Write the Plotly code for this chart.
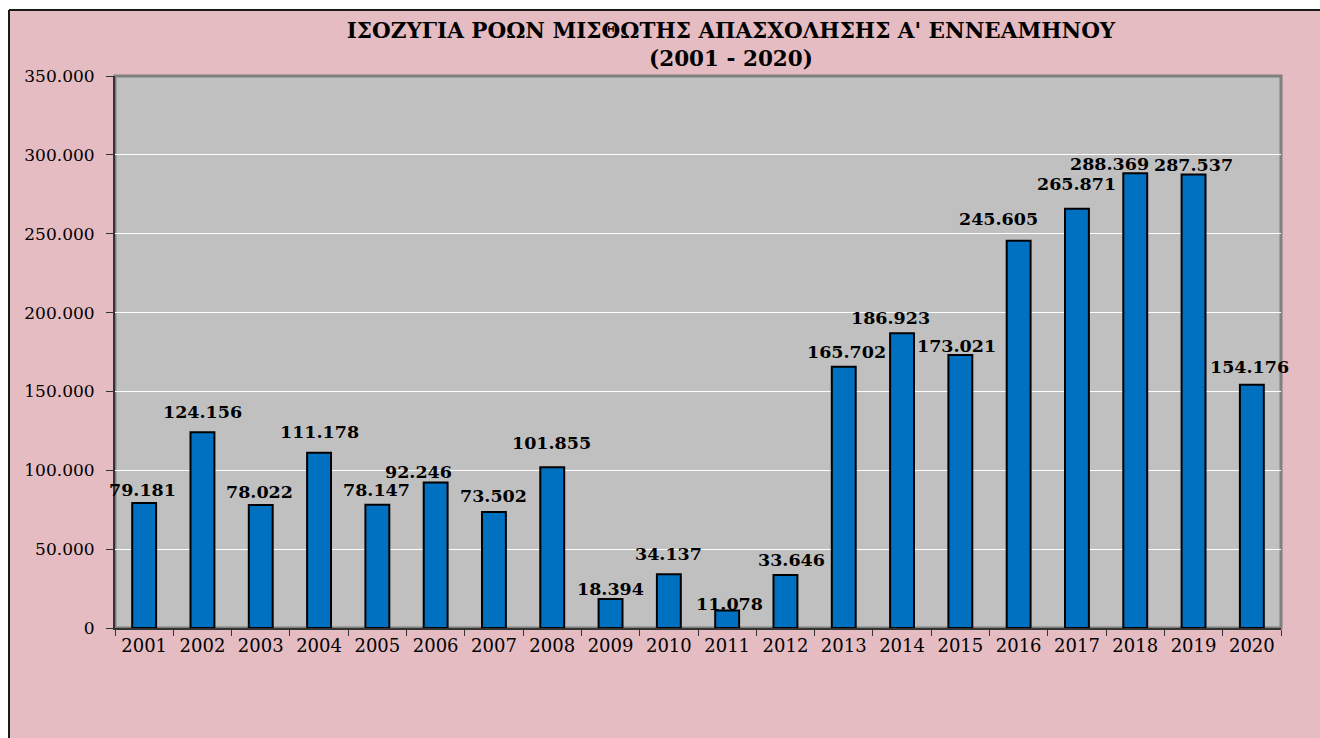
import plotly.graph_objects as go

years = [str(y) for y in range(2001, 2021)]
values = [79181, 124156, 78022, 111178, 78147, 92246, 73502, 101855, 18394, 34137,
          11078, 33646, 165702, 186923, 173021, 245605, 265871, 288369, 287537, 154176]
title_main = "ΙΣΟΖΥΓΙΑ ΡΟΩΝ ΜΙΣΘΩΤΗΣ ΑΠΑΣΧΟΛΗΣΗΣ Α' ΕΝΝΕΑΜΗΝΟΥ"
title_sub = "(2001 - 2020)"
y_ticks = [0, 50000, 100000, 150000, 200000, 250000, 300000, 350000]

# label offsets (pixels) relative to the top-center of each bar
label_dx = [-2, 0, -1, 0, -1, -17, 0, -1, 0, 0, 2, 6, 3, -12, -4, -20, 0, -26, 0, -2]
label_dy = [13, 20, 13, 21, 15, 11, 16, 24, 10, 20, 7, 15, 15, 15, 9, 22, 25, 9, 10, 18]

def fmt(v):
    return f"{v:,}".replace(",", ".")

W, H = 1320, 738
L, R, T, B = 115, 39, 76, 110
pw, ph = W - L - R, H - T - B

def px_x(x):
    return (x - L) / pw

def px_y(y):
    return (H - B - y) / ph

fig = go.Figure()
fig.add_trace(go.Bar(
    x=years, y=values,
    marker=dict(color="#0070c0", line=dict(color="#000000", width=2)),
    hoverinfo="x+y",
))

for i, (v, dx, dy) in enumerate(zip(values, label_dx, label_dy)):
    fig.add_annotation(
        x=i, y=v, text=f"<b>{fmt(v)}</b>", showarrow=False,
        xanchor="center", yanchor="middle", xshift=dx, yshift=dy,
        font=dict(family="DejaVu Serif", size=17.5, color="#000000"),
    )

shapes = [
    # pink chart area
    dict(type="rect", xref="paper", yref="paper", layer="below",
         x0=px_x(9), x1=px_x(1340), y0=px_y(760), y1=px_y(10),
         fillcolor="#e5bcc2", line=dict(width=0)),
    # frame edges (left and top only; the rest lies outside the view)
    dict(type="line", xref="paper", yref="paper", layer="below",
         x0=px_x(9), x1=px_x(9), y0=px_y(760), y1=px_y(10),
         line=dict(color="#1a1a1a", width=2)),
    dict(type="line", xref="paper", yref="paper", layer="below",
         x0=px_x(9), x1=px_x(1340), y0=px_y(10), y1=px_y(10),
         line=dict(color="#1a1a1a", width=2)),
    # grey plot area
    dict(type="rect", xref="paper", yref="paper", layer="below",
         x0=0, x1=1, y0=0, y1=1,
         fillcolor="#c0c0c0", line=dict(color="#808080", width=3)),
]

fig.update_layout(
    width=W, height=H,
    margin=dict(l=L, r=R, t=T, b=B),
    paper_bgcolor="#ffffff",
    plot_bgcolor="#c0c0c0",
    separators=",.",
    bargap=0.59,
    showlegend=False,
    shapes=shapes,
    title=dict(
        text=f"<b>{title_main}</b><br><b>{title_sub}</b>",
        xref="container", yref="container",
        x=731 / W, xanchor="center",
        y=1 - 38 / H, yanchor="top",
        font=dict(family="DejaVu Serif", size=21.5, color="#000000"),
    ),
    xaxis=dict(
        type="category",
        range=[-0.5, len(years) - 0.5],
        showline=True, linecolor="#333333", linewidth=2,
        ticks="outside", ticklen=6, tickcolor="#333333", tickwidth=1,
        tickson="boundaries", tickangle=0,
        tickfont=dict(family="DejaVu Serif", size=18, color="#000000"),
        showgrid=False,
    ),
    yaxis=dict(
        range=[0, 350000],
        tickvals=y_ticks,
        tickformat=",d",
        showline=True, linecolor="#333333", linewidth=2,
        ticks="outside", ticklen=7, tickcolor="#333333", tickwidth=1,
        ticklabelstandoff=8,
        tickfont=dict(family="DejaVu Serif", size=17, color="#000000"),
        showgrid=True, gridcolor="#ffffff", gridwidth=1,
        zeroline=False,
    ),
)

fig.write_html(
    "out.html",
    config={"displayModeBar": False},
    post_script=(
        "document.body.style.margin='0';"
        "document.body.style.overflow='hidden';"
        "document.documentElement.style.overflow='hidden';"
    ),
)
